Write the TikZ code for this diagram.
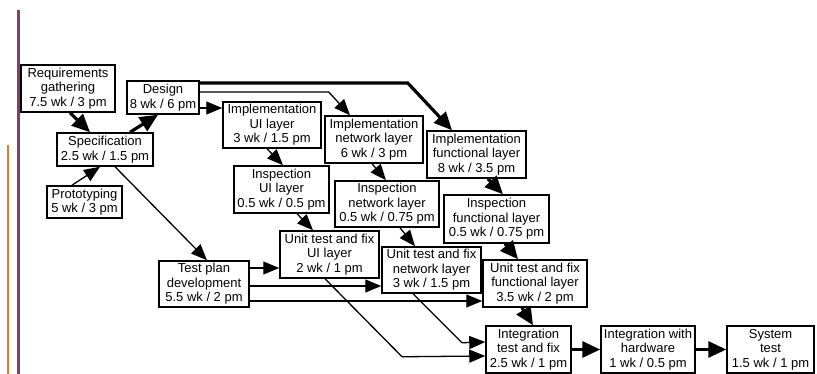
\documentclass[tikz,border=0pt]{standalone}
\usepackage{fontspec}
\setmainfont{Liberation Sans}
\usepackage{xcolor}
\usepackage{tikz}
\usetikzlibrary{arrows.meta,calc}
\tikzset{
  task/.style = {rectangle, draw, line width=1.5pt, align=center, inner sep=0pt,
                 font=\fontsize{13}{14.5}\selectfont},
  dep/.style  = {line width=1.3pt, -{Triangle[length=16pt,width=13pt]}},
  crit/.style = {line width=3.2pt, -{Triangle[length=18pt,width=16pt]}},
}
\definecolor{barPurple}{HTML}{7D3F6B}
\definecolor{barOrange}{HTML}{E07B2A}

\begin{document}
\begin{tikzpicture}[x=1pt,y=-1pt]

  \useasboundingbox (0,0) rectangle (817,374);

  % Side bars
  \draw[barOrange, line width=2pt] (8,145) -- (8,374);
  \draw[barPurple, line width=3pt] (18,10) -- (18,374);

  % === Early tasks ===
  \node[task, minimum width=94pt, minimum height=47pt] (req) at (68,88.5)
    {Requirements\\gathering\\7.5 wk / 3 pm};
  \node[task, minimum width=72pt, minimum height=33pt] (design) at (163,97.5)
    {Design\\8 wk / 6 pm};
  \node[task, minimum width=96pt, minimum height=33pt] (spec) at (105,149.5)
    {Specification\\2.5 wk / 1.5 pm};
  \node[task, minimum width=75pt, minimum height=32pt] (proto) at (84.5,202)
    {Prototyping\\5 wk / 3 pm};
  \node[task, minimum width=90pt, minimum height=46pt] (testplan) at (204,284)
    {Test plan\\development\\5.5 wk / 2 pm};

  % === Implementation ===
  \node[task, minimum width=98pt, minimum height=46pt] (implUI) at (272,125)
    {Implementation\\UI layer\\3 wk / 1.5 pm};
  \node[task, minimum width=98pt, minimum height=47pt] (implNet) at (374,139.5)
    {Implementation\\network layer\\6 wk / 3 pm};
  \node[task, minimum width=99pt, minimum height=47pt] (implFun) at (476.5,154.5)
    {Implementation\\functional layer\\8 wk / 3.5 pm};

  % === Inspection ===
  \node[task, minimum width=95pt, minimum height=47pt] (inspUI) at (281.5,189.5)
    {Inspection\\UI layer\\0.5 wk / 0.5 pm};
  \node[task, minimum width=104pt, minimum height=46pt] (inspNet) at (387,204)
    {Inspection\\network layer\\0.5 wk / 0.75 pm};
  \node[task, minimum width=105pt, minimum height=48pt] (inspFun) at (496.5,219)
    {Inspection\\functional layer\\0.5 wk / 0.75 pm};

  % === Unit test ===
  \node[task, minimum width=99pt, minimum height=47pt] (unitUI) at (329.5,254.5)
    {Unit test and fix\\UI layer\\2 wk / 1 pm};
  \node[task, minimum width=99pt, minimum height=46pt] (unitNet) at (431.5,270)
    {Unit test and fix\\network layer\\3 wk / 1.5 pm};
  \node[task, minimum width=104pt, minimum height=47pt] (unitFun) at (535,283.5)
    {Unit test and fix\\functional layer\\3.5 wk / 2 pm};

  % === Integration ===
  \node[task, minimum width=85pt, minimum height=47pt] (integ) at (528.5,349.5)
    {Integration\\test and fix\\2.5 wk / 1 pm};
  \node[task, minimum width=94pt, minimum height=47pt] (hw) at (648,349.5)
    {Integration with\\hardware\\1 wk / 0.5 pm};
  \node[task, minimum width=87pt, minimum height=47pt] (systest) at (770.5,349.5)
    {System\\test\\1.5 wk / 1 pm};

  % Edges: early tasks
  \draw[crit] ($(req.south)+(2,0)$) -- ($(spec.north)+(-15,0)$);
  \draw[crit] ($(spec.north)+(25,0)$) -- ($(design.south)+(-5,0)$);
  \draw[dep] ($(proto.north)+(-12.5,0)$) -- ($(spec.south)+(-5,0)$);
  \draw[dep] ($(spec.south)+(10,0)$) -- ($(testplan.north)+(3,0)$);

  % Edges: design to implementation
  \draw[dep] ($(design.east)+(0,10.5)$) -- ($(implUI.west)+(0,-17)$);
  \draw[dep] ($(design.east)+(0,-5.5)$) -- ++(129,0) -- ($(implNet.north)+(-24,0)$);
  \draw[crit] ($(design.east)+(0,-14.5)$) -- ++(208,0) -- ($(implFun.north)+(-24.5,0)$);

  % Edges: implementation to inspection
  \draw[dep] ($(implUI.south)+(-5,0)$) -- ($(inspUI.north)+(1.5,0)$);
  \draw[dep] ($(implNet.south)+(-2,0)$) -- ($(inspNet.north)+(-1,0)$);
  \draw[crit] ($(implFun.south)+(11.5,0)$) -- ($(inspFun.north)+(6.5,0)$);

  % Edges: inspection to unit test
  \draw[dep] ($(inspUI.south)+(15.5,0)$) -- ($(unitUI.north)+(-16.5,0)$);
  \draw[dep] ($(inspNet.south)+(13,0)$) -- ($(unitNet.north)+(-16.5,0)$);
  \draw[crit] ($(inspFun.south)+(8.5,0)$) -- ($(unitFun.north)+(-17,0)$);

  % Edges: test plan to unit test
  \draw[dep] ($(testplan.east)+(0,-16)$) -- ($(unitUI.west)+(0,13.5)$);
  \draw[dep] ($(testplan.east)+(0,2)$) -- ($(unitNet.west)+(0,16)$);
  \draw[dep] ($(testplan.east)+(0,17)$) -- ($(unitFun.west)+(0,17.5)$);

  % Edges: unit test to integration
  \draw[dep] ($(unitUI.south)+(-4.5,0)$) -- ++(77,78) -- ($(integ.west)+(0,6.5)$);
  \draw[dep] ($(unitNet.south)+(-18.5,0)$) -- ++(49,49) -- ($(integ.west)+(0,-7.5)$);
  \draw[crit] ($(unitFun.south)+(-13,0)$) -- ($(integ.north)+(4.5,0)$);

  % Edges: final chain
  \draw[crit] (integ.east) -- (hw.west);
  \draw[crit] (hw.east) -- (systest.west);

\end{tikzpicture}
\end{document}
